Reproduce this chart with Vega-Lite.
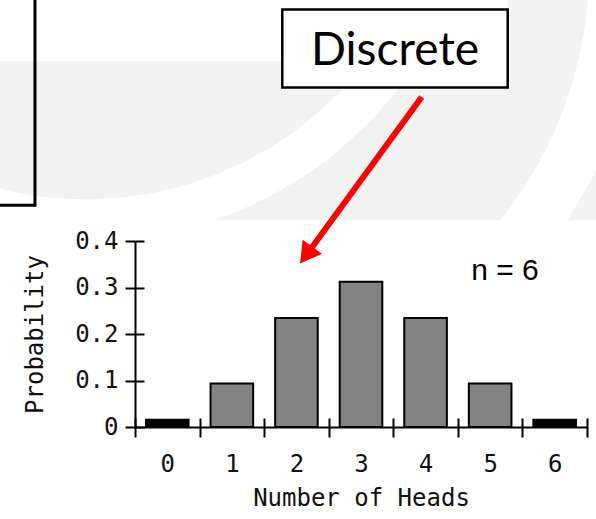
{
  "$schema": "https://vega.github.io/schema/vega-lite/v6.json",
  "width": 452,
  "height": 186,
  "autosize": {"type": "none"},
  "padding": {"left": 135, "top": 241, "right": 9, "bottom": 92},
  "background": "white",
  "config": {"view": {"stroke": null}},
  "datasets": {
    "binom": [
      {"heads": 0, "prob": 0.015625},
      {"heads": 1, "prob": 0.09375},
      {"heads": 2, "prob": 0.234375},
      {"heads": 3, "prob": 0.3125},
      {"heads": 4, "prob": 0.234375},
      {"heads": 5, "prob": 0.09375},
      {"heads": 6, "prob": 0.015625}
    ],
    "one": [{"k": 1}]
  },
  "layer": [
    {
      "data": {"name": "one"},
      "mark": {"type": "rect", "color": "#f2f2f2"},
      "encoding": {
        "x": {"datum": -3, "type": "quantitative", "scale": {"domain": [-0.5, 6.5], "nice": false, "zero": false}, "axis": null},
        "x2": {"datum": 7},
        "y": {"datum": 0.4445, "type": "quantitative", "scale": {"domain": [0, 0.4], "nice": false, "zero": false}, "axis": null},
        "y2": {"datum": 1.0}
      }
    },
    {
      "data": {"name": "one"},
      "mark": {"type": "rect", "color": "white"},
      "encoding": {
        "x": {"datum": -3, "type": "quantitative", "scale": {"domain": [-0.5, 6.5], "nice": false, "zero": false}, "axis": null},
        "x2": {"datum": 5.27},
        "y": {"datum": 0.7865, "type": "quantitative", "scale": {"domain": [0, 0.4], "nice": false, "zero": false}, "axis": null},
        "y2": {"datum": 1.0}
      }
    },
    {
      "data": {"name": "one"},
      "mark": {"type": "arc", "color": "white", "radius": 396, "radius2": 354, "theta": 1.92, "theta2": 3.665},
      "encoding": {
        "x": {"datum": -1.259, "type": "quantitative", "scale": {"domain": [-0.5, 6.5], "nice": false, "zero": false}, "axis": null},
        "y": {"datum": 1.251, "type": "quantitative", "scale": {"domain": [0, 0.4], "nice": false, "zero": false}, "axis": null}
      }
    },
    {
      "data": {"name": "one"},
      "mark": {"type": "arc", "color": "white", "radius": 456, "radius2": 402, "theta": 1.484, "theta2": 2.5},
      "encoding": {
        "x": {"datum": 0.305, "type": "quantitative", "scale": {"domain": [-0.5, 6.5], "nice": false, "zero": false}, "axis": null},
        "y": {"datum": 0.9865, "type": "quantitative", "scale": {"domain": [0, 0.4], "nice": false, "zero": false}, "axis": null}
      }
    },
    {
      "data": {"name": "one"},
      "mark": {"type": "rect", "fillOpacity": 0, "stroke": "black", "strokeWidth": 3},
      "encoding": {
        "x": {"datum": -6, "type": "quantitative", "scale": {"domain": [-0.5, 6.5], "nice": false, "zero": false}, "axis": null},
        "x2": {"datum": -2.049},
        "y": {"datum": 0.4768, "type": "quantitative", "scale": {"domain": [0, 0.4], "nice": false, "zero": false}, "axis": null},
        "y2": {"datum": 1.2}
      }
    },
    {
      "data": {"name": "one"},
      "mark": {"type": "rect", "fill": "white", "stroke": "black", "strokeWidth": 2.5},
      "encoding": {
        "x": {"datum": 1.781, "type": "quantitative", "scale": {"domain": [-0.5, 6.5], "nice": false, "zero": false}, "axis": null},
        "x2": {"datum": 5.272},
        "y": {"datum": 0.730, "type": "quantitative", "scale": {"domain": [0, 0.4], "nice": false, "zero": false}, "axis": null},
        "y2": {"datum": 0.898}
      }
    },
    {
      "data": {"name": "one"},
      "mark": {"type": "text", "text": "Discrete", "font": "Lato", "fontSize": 46, "color": "black", "align": "center", "baseline": "alphabetic"},
      "encoding": {
        "x": {"datum": 3.527, "type": "quantitative", "scale": {"domain": [-0.5, 6.5], "nice": false, "zero": false}, "axis": null},
        "y": {"datum": 0.778, "type": "quantitative", "scale": {"domain": [0, 0.4], "nice": false, "zero": false}, "axis": null}
      }
    },
    {
      "data": {"name": "one"},
      "mark": {"type": "rule", "color": "#ff0000", "strokeWidth": 6, "strokeCap": "butt"},
      "encoding": {
        "x": {"datum": 3.94, "type": "quantitative", "scale": {"domain": [-0.5, 6.5], "nice": false, "zero": false}, "axis": null},
        "x2": {"datum": 2.151},
        "y": {"datum": 0.7097, "type": "quantitative", "scale": {"domain": [0, 0.4], "nice": false, "zero": false}, "axis": null},
        "y2": {"datum": 0.3695}
      }
    },
    {
      "data": {"name": "one"},
      "mark": {"type": "point", "shape": "triangle-up", "size": 576, "angle": 216, "filled": true, "color": "#ff0000", "opacity": 1, "strokeWidth": 0},
      "encoding": {
        "x": {"datum": 2.151, "type": "quantitative", "scale": {"domain": [-0.5, 6.5], "nice": false, "zero": false}, "axis": null},
        "y": {"datum": 0.3695, "type": "quantitative", "scale": {"domain": [0, 0.4], "nice": false, "zero": false}, "axis": null}
      }
    },
    {
      "data": {"name": "binom"},
      "mark": {"type": "bar", "stroke": "black", "strokeWidth": 2, "width": {"band": 0.66}},
      "encoding": {
        "x": {
          "field": "heads", "type": "ordinal",
          "scale": {"paddingInner": 0, "paddingOuter": 0},
          "axis": {
            "orient": "bottom", "zindex": 1, "tickBand": "extent", "tickSize": 10, "tickWidth": 2, "tickColor": "black",
            "domainColor": "black", "domainWidth": 2, "labelAngle": 0,
            "labelFont": "DejaVu Sans Mono", "labelFontSize": 24, "labelColor": "#111", "labelPadding": 15,
            "title": "Number of Heads", "titleFont": "DejaVu Sans Mono", "titleFontSize": 24, "titleFontWeight": "normal",
            "titleColor": "#111", "titlePadding": 10, "grid": false
          }
        },
        "y": {
          "field": "prob", "type": "quantitative",
          "scale": {"domain": [0, 0.4], "nice": false, "zero": false},
          "axis": {
            "zindex": 1,
            "values": [0, 0.1, 0.2, 0.3, 0.4],
            "labelExpr": "datum.value == 0 ? '0' : format(datum.value, '.1f')",
            "tickSize": 10, "tickWidth": 2, "tickColor": "black",
            "domainColor": "black", "domainWidth": 2,
            "labelFont": "DejaVu Sans Mono", "labelFontSize": 24, "labelColor": "#111", "labelPadding": 7,
            "title": "Probability", "titleFont": "DejaVu Sans Mono", "titleFontSize": 24, "titleFontWeight": "normal",
            "titleColor": "#111", "titlePadding": 27, "grid": false
          }
        },
        "fill": {
          "condition": {"test": "datum.prob < 0.05", "value": "black"},
          "value": "#838383"
        }
      }
    },
    {
      "data": {"name": "binom"},
      "mark": {"type": "bar", "opacity": 0},
      "encoding": {
        "x": {
          "field": "heads", "type": "ordinal",
          "scale": {"paddingInner": 0, "paddingOuter": 0},
          "axis": {"orient": "top", "zindex": 1, "offset": -186, "tickBand": "extent", "tickSize": 9, "tickWidth": 2, "tickColor": "black", "domain": false, "labels": false, "title": null, "grid": false}
        },
        "y": {
          "field": "prob", "type": "quantitative",
          "scale": {"domain": [0, 0.4], "nice": false, "zero": false},
          "axis": {"orient": "right", "zindex": 1, "offset": -452, "values": [0, 0.1, 0.2, 0.3, 0.4], "tickSize": 9, "tickWidth": 2, "tickColor": "black", "domain": false, "labels": false, "title": null, "grid": false}
        }
      }
    },
    {
      "data": {"name": "one"},
      "mark": {"type": "text", "text": "n = 6", "font": "Liberation Sans", "fontSize": 30, "color": "black", "align": "center", "baseline": "alphabetic"},
      "encoding": {
        "x": {"datum": 5.23, "type": "quantitative", "scale": {"domain": [-0.5, 6.5], "nice": false, "zero": false}, "axis": null},
        "y": {"datum": 0.3155, "type": "quantitative", "scale": {"domain": [0, 0.4], "nice": false, "zero": false}, "axis": null}
      }
    }
  ],
  "resolve": {"scale": {"x": "independent", "y": "independent"}}
}
